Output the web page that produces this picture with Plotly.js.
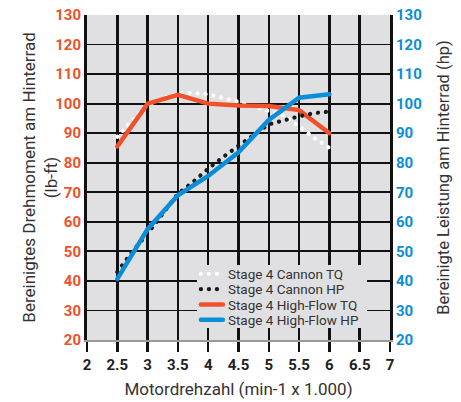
<!DOCTYPE html>
<html><head><meta charset="utf-8">
<script src="https://cdn.plot.ly/plotly-3.0.1.min.js"></script>
<style>
body{margin:0;background:#fff;}
#chart{width:461px;height:402px;}
.scatterlayer .js-line, .legend .js-line{stroke-linecap:round;}
</style></head>
<body><div id="chart"></div>
<script>
// RPM (x 1000)
const rpmFine = [2.5,2.75,3,3.25,3.5,3.75,4,4.25,4.5,4.75,5,5.25,5.5,5.75,6];
const rpm = [2.5,3,3.5,4,4.5,5,5.5,6];
// Stage 4 Cannon (dotted)
const cannonTQ = [88.8,94.5,99.5,101.8,103.5,103.6,103.2,102,100.6,99,97.4,96,92.3,88.4,85];
const cannonHP = [43,50,56,63,69.5,73.5,78,82,85.5,89.4,93,94.5,95.7,96.8,97.3];
// Stage 4 High-Flow (solid)
const highFlowTQ = [85.5,100,103,100,99.4,99.2,97.8,90];
const highFlowHP = [40.7,57.5,69,75.5,83.5,94.5,102,103.2];
const names = ["Stage 4 Cannon TQ","Stage 4 Cannon HP","Stage 4 High-Flow TQ","Stage 4 High-Flow HP"];
const xTicks = [2,2.5,3,3.5,4,4.5,5,5.5,6,6.5,7];
const yTicks = [20,30,40,50,60,70,80,90,100,110,120,130];

const orange = '#f0502a', blue = '#0a8ed8';
const traces = [
  {x: rpmFine, y: cannonTQ, name: names[0], mode:'lines', yaxis:'y',
   line:{color:'#ffffff', width:4.2, dash:'0.1px,7.9px'}},
  {x: rpmFine, y: cannonHP, name: names[1], mode:'lines', yaxis:'y2',
   line:{color:'#1a1a1a', width:4.2, dash:'0.1px,7.9px'}},
  {x: rpm, y: highFlowTQ, name: names[2], mode:'lines', yaxis:'y',
   line:{color:orange, width:4.5}},
  {x: rpm, y: highFlowHP, name: names[3], mode:'lines', yaxis:'y2',
   line:{color:blue, width:4.5}}
];
const tickFont = {family:'Roboto, sans-serif', size:15, weight:700};
const titleFont = {family:'Roboto, sans-serif', size:17, color:'#333'};
const layout = {
  width:461, height:402,
  margin:{l:87, r:71, t:15, b:62},
  paper_bgcolor:'#ffffff', plot_bgcolor:'#e0e0e2',
  showlegend:true,
  legend:{x:0.333, y:0.231, xanchor:'left', yanchor:'top', bgcolor:'#e0e0e2', borderwidth:0,
    font:{family:'Roboto, sans-serif', size:13.5, color:'#333'}, traceorder:'normal'},
  xaxis:{range:[2,7], tickvals:xTicks, ticktext:xTicks.map(String),
    showgrid:true, gridcolor:'#111', gridwidth:2.5,
    ticks:'outside', ticklen:10, tickwidth:2.5, tickcolor:'#111',
    showline:true, linecolor:'#9a9a9a', linewidth:1.5,
    zeroline:false, tickfont:Object.assign({color:'#222'}, tickFont),
    title:{text:'Motordrehzahl (min-1 x 1.000)', standoff:10, font:titleFont}},
  yaxis:{range:[20,130], tickvals:yTicks, showgrid:true, gridcolor:'#111', gridwidth:1.8,
    showline:true, linecolor:'#111', linewidth:3, zeroline:false, ticks:'',
    tickfont:Object.assign({color:orange}, tickFont),
    title:{text:'Bereinigtes Drehmoment am Hinterrad<br>(lb-ft)', standoff:0, font:titleFont}},
  yaxis2:{range:[20,130], tickvals:yTicks, overlaying:'y', side:'right', showgrid:false,
    showline:true, linecolor:'#111', linewidth:3, zeroline:false, ticks:'',
    tickfont:Object.assign({color:blue}, tickFont),
    title:{text:'Bereinigte Leistung am Hinterrad (hp)', standoff:17,
      font:Object.assign({}, titleFont, {size:16.5})}}
};
const gd = document.getElementById('chart');
Plotly.newPlot(gd, traces, layout, {displayModeBar:false, staticPlot:true}).then(function(){
  // tighten legend rows to match the reference's compact spacing
  const leg = gd.querySelector('.legend');
  if(leg){
    const items = leg.querySelectorAll('.traces');
    items.forEach(function(g, i){
      g.setAttribute('transform', 'translate(0,' + (9 + i*15.3) + ')');
      const p = g.querySelector('.legendlines path');
      if(p) p.setAttribute('d', 'M13,0h22');
    });
    const bg = leg.querySelector('rect.bg');
    if(bg){ bg.setAttribute('x', 9); bg.setAttribute('width', 170); bg.setAttribute('height', 63); }
  }
  // nudge the left axis title a little closer to its tick labels
  const yt = gd.querySelector('.g-ytitle');
  if(yt){ yt.setAttribute('transform', ((yt.getAttribute('transform')||'') + ' translate(6,0)').trim()); }
});
</script></body></html>
